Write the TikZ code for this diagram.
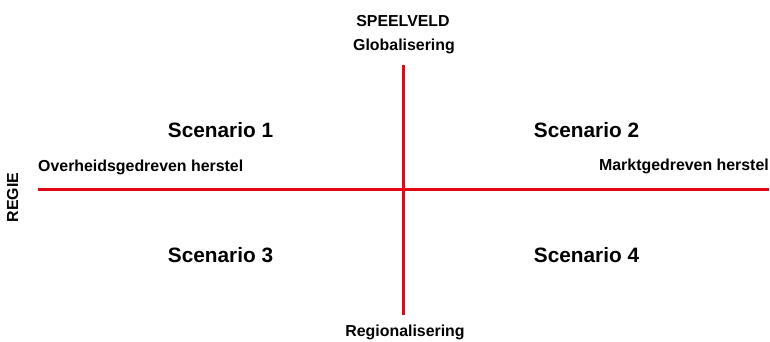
\documentclass[tikz,border=0pt]{standalone}
\usepackage{fontspec}
\setmainfont{Liberation Sans}
\definecolor{axisred}{RGB}{228,6,19}
\begin{document}
\begin{tikzpicture}[x=1pt,y=-1pt,
  lbl/.style={inner sep=0pt,font=\bfseries\fontsize{15.9}{19}\selectfont},
  scen/.style={inner sep=0pt,anchor=base,font=\bfseries\fontsize{20.8}{25}\selectfont},
  axis/.style={draw=axisred,line width=2.6pt}]
\useasboundingbox (0,0) rectangle (770,341);
\coordinate (hl) at (38,189.3);
\coordinate (hr) at (769,189.3);
\coordinate (vt) at (403.7,65);
\coordinate (vb) at (403.7,315);
\draw[axis] (hl) -- (hr);
\draw[axis] (vt) -- (vb);
\node[lbl,anchor=base] (speelveld) at (403,26.8) {SPEELVELD};
\node[lbl,anchor=base] (glob) at (404,50) {Globalisering};
\node[lbl,anchor=base] (reg) at (405,336.7) {Regionalisering};
\node[lbl,anchor=base west] (overheid) at (38,171.5) {Overheidsgedreven herstel};
\node[lbl,anchor=base east] (markt) at (769,170.8) {Marktgedreven herstel};
\node[lbl,anchor=base,rotate=90] (regie) at (18,197.5) {REGIE};
\node[scen] (s1) at (220.5,137) {Scenario 1};
\node[scen] (s2) at (586.5,137) {Scenario 2};
\node[scen] (s3) at (220.5,262) {Scenario 3};
\node[scen] (s4) at (586.5,262) {Scenario 4};
\end{tikzpicture}
\end{document}
